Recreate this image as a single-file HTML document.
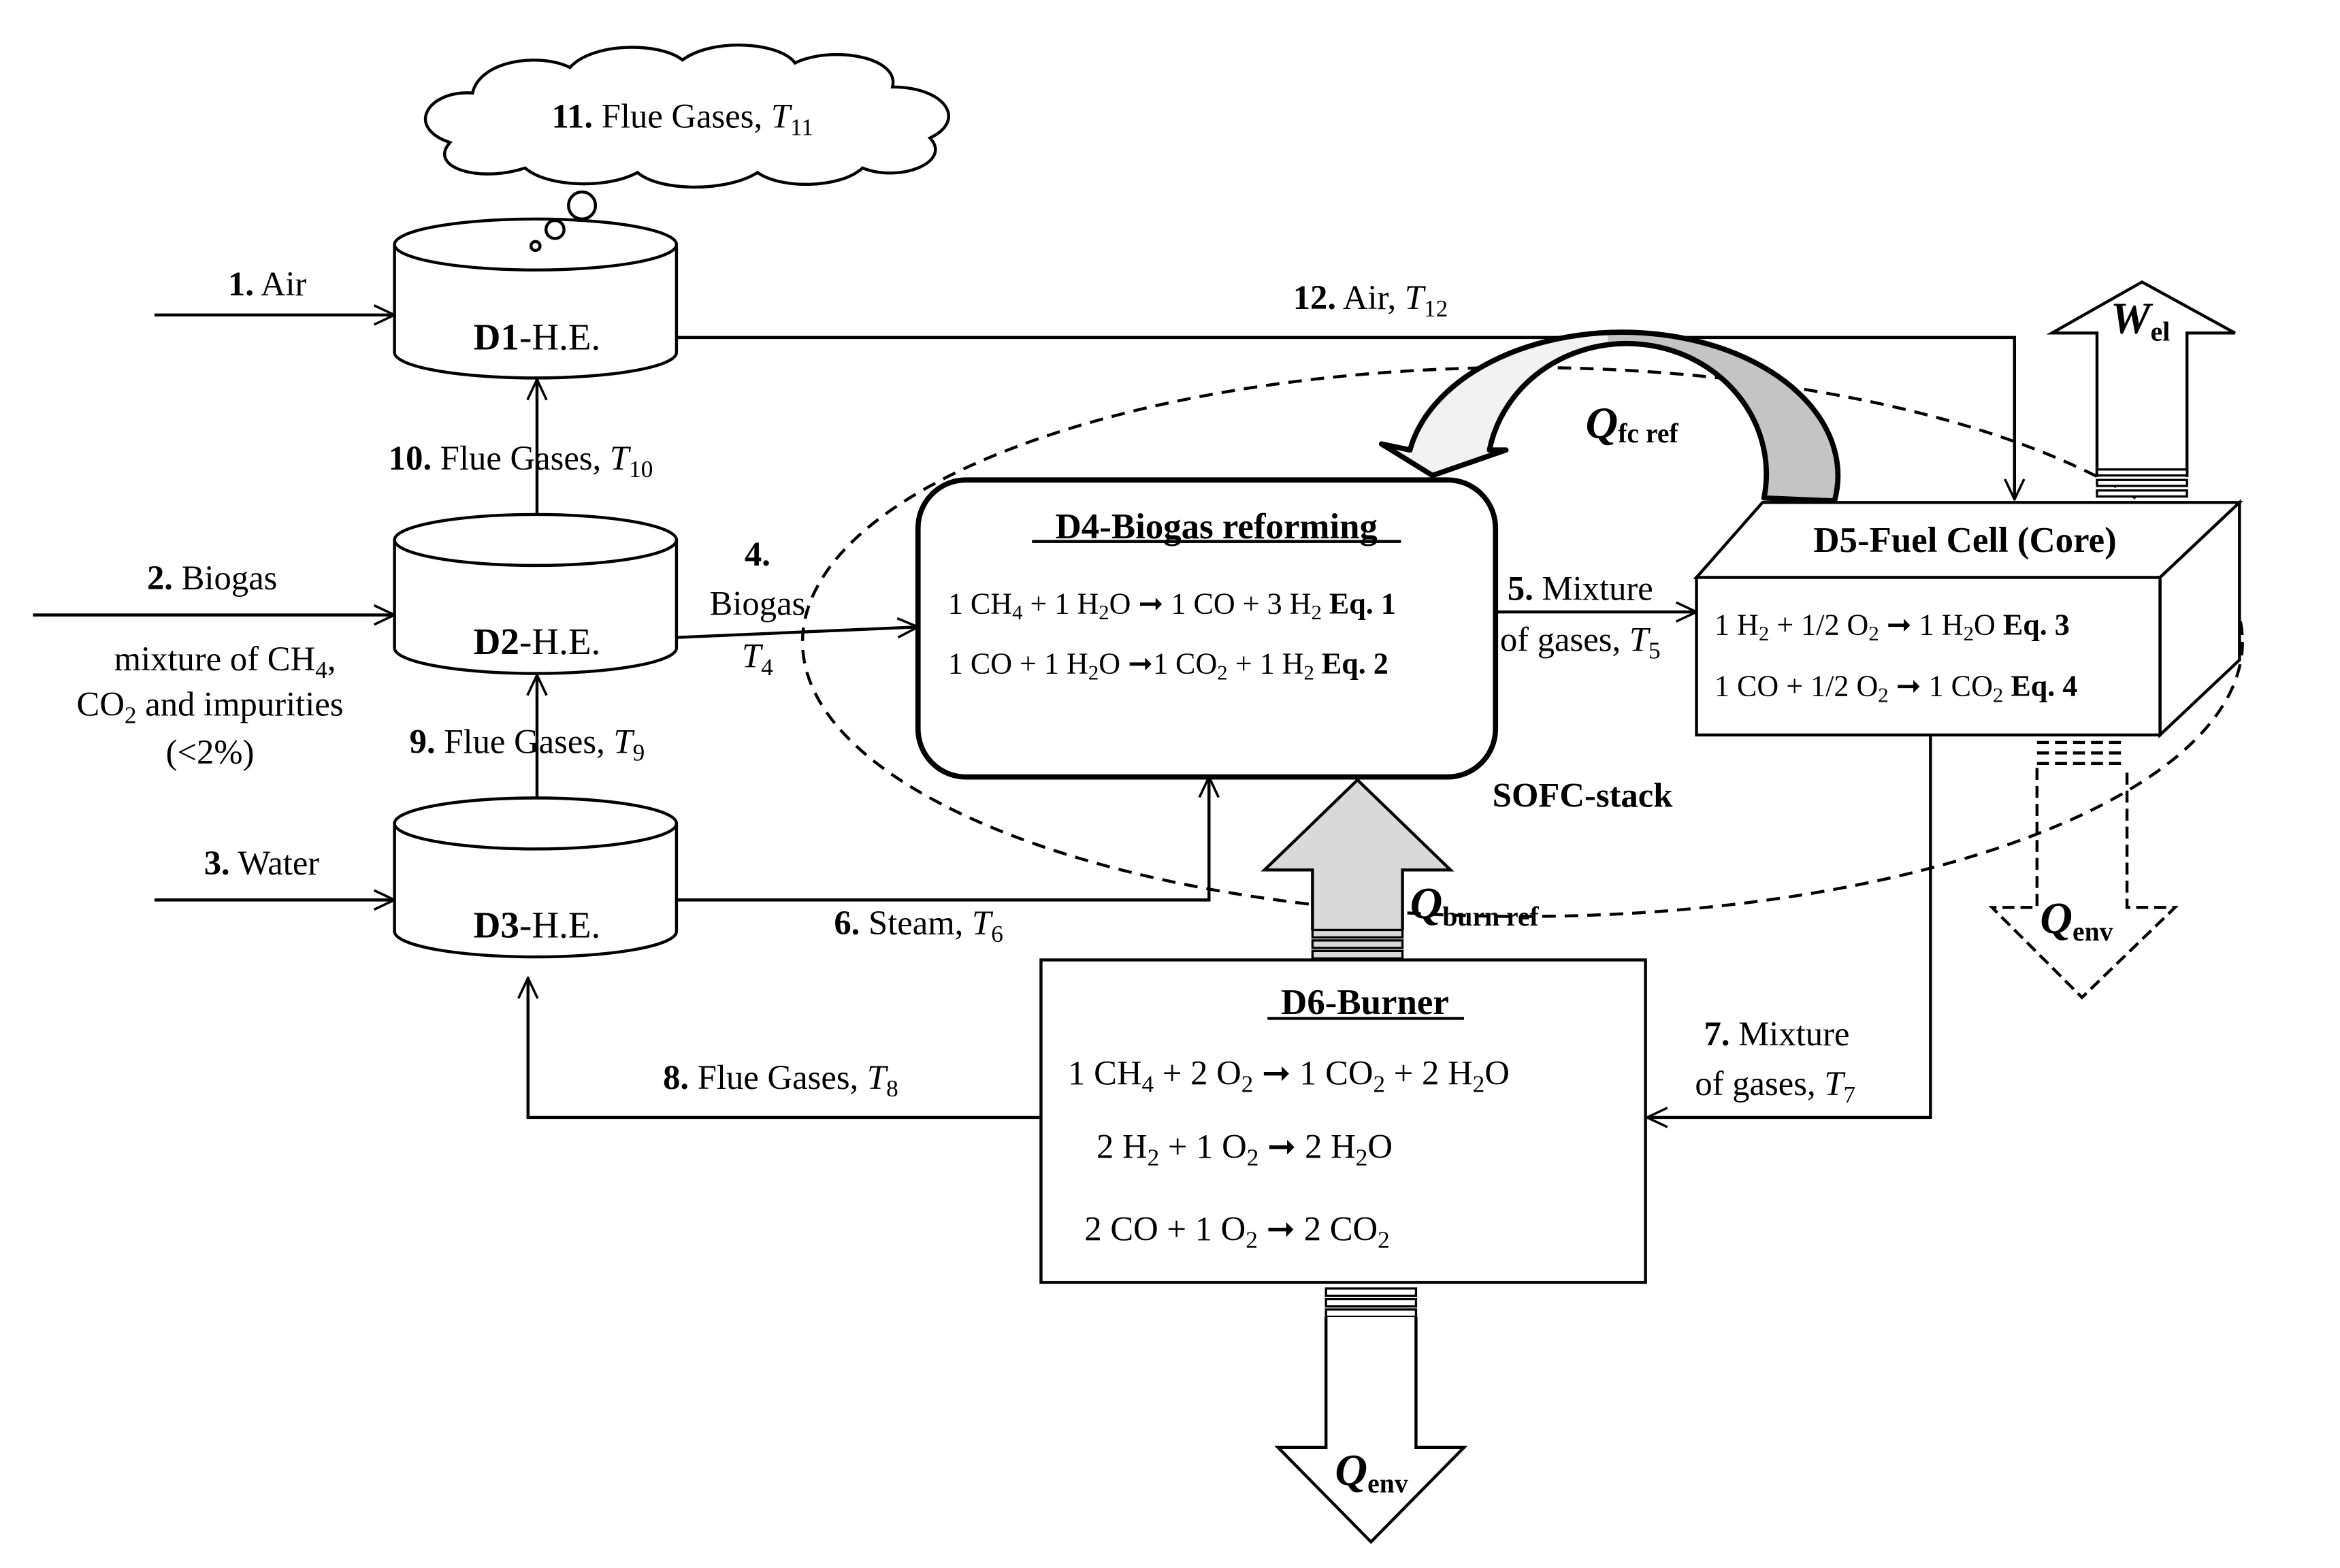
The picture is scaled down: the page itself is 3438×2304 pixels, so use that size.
<!DOCTYPE html>
<html><head><meta charset="utf-8"><style>
html,body{margin:0;padding:0;background:#fff;}
svg{display:block;}
text{font-family:"Liberation Serif",serif;fill:#000;}
.b{font-weight:bold;}
.i{font-style:italic;}
</style></head><body>
<svg width="3438" height="2304" viewBox="0 0 1560 1045.4" preserveAspectRatio="none" xmlns="http://www.w3.org/2000/svg">
<defs>
<marker id="a" viewBox="0 0 20 20" refX="19" refY="10" markerWidth="16" markerHeight="16" markerUnits="userSpaceOnUse" orient="auto">
<path d="M2,2 L19,10 L2,18" fill="none" stroke="#000" stroke-width="2"/>
</marker>
<linearGradient id="g" gradientUnits="userSpaceOnUse" x1="921" y1="0" x2="1223" y2="0">
<stop offset="0" stop-color="#f2f2f2"/><stop offset="0.5" stop-color="#f2f2f2"/><stop offset="0.5" stop-color="#c4c4c4"/><stop offset="1" stop-color="#c4c4c4"/>
</linearGradient>
</defs>
<rect width="1560" height="1046" fill="#fff"/>
<g stroke="#000" stroke-width="2" fill="none">
<path d="M300,95 C270,85 285,60 315,62 C320,40 360,35 380,45 C395,28 440,28 455,40 C475,25 520,28 530,42 C555,30 600,38 595,58 C630,58 645,80 620,92 C635,108 600,122 575,112 C560,126 520,126 505,115 C485,128 440,128 425,115 C405,126 365,125 350,112 C320,122 285,112 300,95 Z" fill="#fff"/>
<path d="M263,163 L263,235 A94,17 0 0 0 451,235 L451,163" fill="#fff"/>
<ellipse cx="357" cy="163" rx="94" ry="17" fill="#fff"/>
<circle cx="388" cy="137" r="9" fill="#fff"/>
<circle cx="370" cy="153" r="6" fill="#fff"/>
<circle cx="357" cy="164" r="3" fill="#fff"/>
<path d="M263,360 L263,432 A94,17 0 0 0 451,432 L451,360" fill="#fff"/>
<ellipse cx="357" cy="360" rx="94" ry="17" fill="#fff"/>
<path d="M263,549 L263,621 A94,17 0 0 0 451,621 L451,549" fill="#fff"/>
<ellipse cx="357" cy="549" rx="94" ry="17" fill="#fff"/>
<path d="M103,210 L263,210" marker-end="url(#a)"/>
<path d="M22,410 L263,410" marker-end="url(#a)"/>
<path d="M103,600 L263,600" marker-end="url(#a)"/>
<path d="M358,343 L358,253" marker-end="url(#a)"/>
<path d="M358,532 L358,450" marker-end="url(#a)"/>
<path d="M451,225 L1343,225 L1343,333" marker-end="url(#a)"/>
<path d="M451,425 L612,418" marker-end="url(#a)"/>
<path d="M451,600 L806,600 L806,518" marker-end="url(#a)"/>
<path d="M997,408 L1131,408" marker-end="url(#a)"/>
<path d="M1287,490 L1287,745 L1098,745" marker-end="url(#a)"/>
<path d="M694,745 L352,745 L352,652" marker-end="url(#a)"/>
<ellipse cx="1015" cy="428" rx="480" ry="183" stroke-dasharray="9,6"/>
<rect x="612" y="320" width="385" height="198" rx="32" stroke-width="3.5" fill="#fff"/>
<polygon points="1131,385 1175,335 1493,335 1440,385" fill="#fff"/>
<polygon points="1440,385 1493,335 1493,440 1440,490" fill="#fff"/>
<rect x="1131" y="385" width="309" height="105" fill="#fff"/>
<path d="M940,300 A143,95 0 0 1 1223,334 L1176,332 A92,86 0 0 0 993,300 L1004,300 L955,317 L921,296 Z" fill="url(#g)" stroke-width="3.5" stroke-linejoin="round"/>
<path d="M1398,318 L1398,222 L1368,222 L1428,188 L1490,222 L1458,222 L1458,318" fill="#fff"/>
<rect x="1398" y="313" width="60" height="4" fill="#fff" stroke-width="1.5"/>
<rect x="1398" y="320" width="60" height="4" fill="#fff" stroke-width="1.5"/>
<rect x="1398" y="327" width="60" height="4" fill="#fff" stroke-width="1.5"/>
<g stroke-dasharray="8,4">
<path d="M1358,495 L1418,495 M1358,502 L1418,502 M1358,509 L1418,509"/>
<path d="M1358,512 L1358,605 L1328,605 L1388,665 L1450,605 L1418,605 L1418,512"/>
</g>
<path d="M875,620 L875,580 L843,580 L905,520 L967,580 L935,580 L935,620" fill="#d9d9d9"/>
<rect x="875" y="620" width="60" height="5" fill="#d9d9d9" stroke-width="1.5"/>
<rect x="875" y="627" width="60" height="5" fill="#d9d9d9" stroke-width="1.5"/>
<rect x="875" y="634" width="60" height="5" fill="#d9d9d9" stroke-width="1.5"/>
<rect x="694" y="640" width="403" height="215" fill="#fff"/>
<rect x="884" y="859" width="60" height="5" fill="#fff" stroke-width="1.5"/>
<rect x="884" y="866" width="60" height="5" fill="#fff" stroke-width="1.5"/>
<rect x="884" y="873" width="60" height="5" fill="#fff" stroke-width="1.5"/>
<path d="M884,878 L884,965 L852,965 L914,1028 L976,965 L944,965 L944,878" fill="#fff"/>
</g>
<path d="M688,361 L934,361 M845,679 L976,679" stroke="#000" stroke-width="2"/>
<g font-size="23">
<text x="455" y="85" text-anchor="middle"><tspan class="b">11.</tspan> Flue Gases, <tspan class="i">T</tspan><tspan font-size="16" dy="5">11</tspan></text>
<text x="152" y="197"><tspan class="b">1.</tspan> Air</text>
<text x="358" y="233" text-anchor="middle" font-size="25"><tspan class="b">D1</tspan>-H.E.</text>
<text x="358" y="436" text-anchor="middle" font-size="25"><tspan class="b">D2</tspan>-H.E.</text>
<text x="358" y="625" text-anchor="middle" font-size="25"><tspan class="b">D3</tspan>-H.E.</text>
<text x="98" y="393"><tspan class="b">2.</tspan> Biogas</text>
<text x="150" y="447" text-anchor="middle">mixture of CH<tspan font-size="16" dy="5">4</tspan><tspan dy="-5">,</tspan></text>
<text x="140" y="477" text-anchor="middle">CO<tspan font-size="16" dy="5">2</tspan><tspan dy="-5"> and impurities</tspan></text>
<text x="140" y="509" text-anchor="middle">(&lt;2%)</text>
<text x="136" y="583"><tspan class="b">3.</tspan> Water</text>
<text x="259" y="313"><tspan class="b">10.</tspan> Flue Gases, <tspan class="i">T</tspan><tspan font-size="16" dy="5">10</tspan></text>
<text x="273" y="502"><tspan class="b">9.</tspan> Flue Gases, <tspan class="i">T</tspan><tspan font-size="16" dy="5">9</tspan></text>
<text x="862" y="206"><tspan class="b">12.</tspan> Air, <tspan class="i">T</tspan><tspan font-size="16" dy="5">12</tspan></text>
<text x="505" y="377" text-anchor="middle" class="b">4.</text>
<text x="505" y="410" text-anchor="middle">Biogas</text>
<text x="505" y="445" text-anchor="middle"><tspan class="i">T</tspan><tspan font-size="16" dy="5">4</tspan></text>
<text x="556" y="623"><tspan class="b">6.</tspan> Steam, <tspan class="i">T</tspan><tspan font-size="16" dy="5">6</tspan></text>
<text x="1005" y="400"><tspan class="b">5.</tspan> Mixture</text>
<text x="1000" y="434">of gases, <tspan class="i">T</tspan><tspan font-size="16" dy="5">5</tspan></text>
<text x="1136" y="697"><tspan class="b">7.</tspan> Mixture</text>
<text x="1130" y="730">of gases, <tspan class="i">T</tspan><tspan font-size="16" dy="5">7</tspan></text>
<text x="442" y="726"><tspan class="b">8.</tspan> Flue Gases, <tspan class="i">T</tspan><tspan font-size="16" dy="5">8</tspan></text>
<text x="995" y="538" class="b">SOFC-stack</text>
<text x="811" y="359" text-anchor="middle" class="b" font-size="24">D4-Biogas reforming</text>
<text x="1310" y="368" text-anchor="middle" class="b" font-size="24">D5-Fuel Cell (Core)</text>
<text x="910" y="676" text-anchor="middle" class="b" font-size="24">D6-Burner</text>
</g>
<g font-size="20">
<text x="632" y="409">1 CH<tspan font-size="14" dy="4">4</tspan><tspan dy="-4"> + 1 H</tspan><tspan font-size="14" dy="4">2</tspan><tspan dy="-4">O ➞ 1 CO + 3 H</tspan><tspan font-size="14" dy="4">2</tspan><tspan dy="-4" class="b">  Eq. 1</tspan></text>
<text x="632" y="449">1 CO + 1 H<tspan font-size="14" dy="4">2</tspan><tspan dy="-4">O  ➞1 CO</tspan><tspan font-size="14" dy="4">2</tspan><tspan dy="-4"> + 1 H</tspan><tspan font-size="14" dy="4">2</tspan><tspan dy="-4" class="b">  Eq. 2</tspan></text>
<text x="1143" y="423">1 H<tspan font-size="14" dy="4">2</tspan><tspan dy="-4"> + 1/2 O</tspan><tspan font-size="14" dy="4">2</tspan><tspan dy="-4">  ➞ 1 H</tspan><tspan font-size="14" dy="4">2</tspan><tspan dy="-4">O  </tspan><tspan class="b">Eq. 3</tspan></text>
<text x="1143" y="464">1 CO + 1/2 O<tspan font-size="14" dy="4">2</tspan><tspan dy="-4"> ➞ 1 CO</tspan><tspan font-size="14" dy="4">2</tspan><tspan dy="-4">  </tspan><tspan class="b">Eq. 4</tspan></text>
</g>
<g font-size="23">
<text x="712" y="723">1 CH<tspan font-size="16" dy="5">4</tspan><tspan dy="-5"> + 2 O</tspan><tspan font-size="16" dy="5">2</tspan><tspan dy="-5">  ➞  1 CO</tspan><tspan font-size="16" dy="5">2</tspan><tspan dy="-5"> + 2 H</tspan><tspan font-size="16" dy="5">2</tspan><tspan dy="-5">O</tspan></text>
<text x="731" y="772">2 H<tspan font-size="16" dy="5">2</tspan><tspan dy="-5"> + 1 O</tspan><tspan font-size="16" dy="5">2</tspan><tspan dy="-5">  ➞   2 H</tspan><tspan font-size="16" dy="5">2</tspan><tspan dy="-5">O</tspan></text>
<text x="723" y="827">2 CO + 1 O<tspan font-size="16" dy="5">2</tspan><tspan dy="-5">  ➞   2 CO</tspan><tspan font-size="16" dy="5">2</tspan></text>
</g>
<g font-size="30">
<text x="1057" y="292" class="b i">Q<tspan font-size="18" font-style="normal" dy="3">fc ref</tspan></text>
<text x="1407" y="222" class="b i">W<tspan font-size="18" font-style="normal" dy="5">el</tspan></text>
<text x="940" y="612" class="b i">Q<tspan font-size="18" font-style="normal" dy="5">burn ref</tspan></text>
<text x="1360" y="622" class="b i">Q<tspan font-size="18" font-style="normal" dy="5">env</tspan></text>
<text x="890" y="990" class="b i">Q<tspan font-size="18" font-style="normal" dy="5">env</tspan></text>
</g>
</svg>
</body></html>
